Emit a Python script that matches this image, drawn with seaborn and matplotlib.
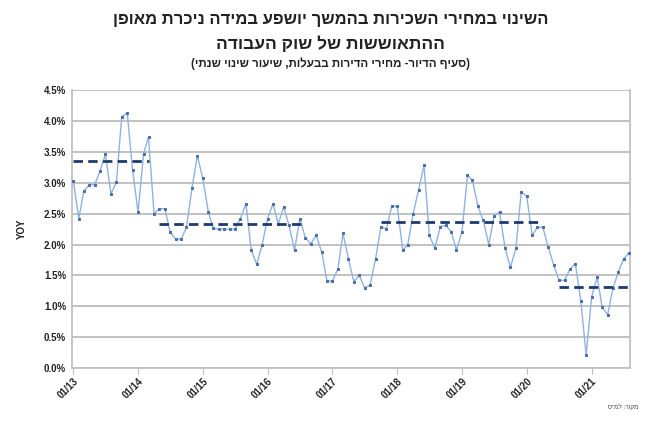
import numpy as np
import pandas as pd
import matplotlib
matplotlib.use("Agg")
import matplotlib.pyplot as plt
from matplotlib.ticker import FixedLocator, FuncFormatter
import seaborn as sns

# Monthly YoY change in owner-occupied housing prices (%), Jan 2013 - Aug 2021
yoy_2013 = [3.03, 2.42, 2.86, 2.97, 2.97, 3.19, 3.46, 2.82, 3.01, 4.07, 4.13, 3.21]
yoy_2014 = [2.52, 3.47, 3.74, 2.50, 2.58, 2.58, 2.20, 2.09, 2.09, 2.28, 2.91, 3.44]
yoy_2015 = [3.07, 2.53, 2.26, 2.25, 2.25, 2.25, 2.25, 2.42, 2.66, 1.91, 1.68, 1.99]
yoy_2016 = [2.42, 2.66, 2.33, 2.61, 2.31, 1.91, 2.42, 2.11, 2.01, 2.15, 1.88, 1.41]
yoy_2017 = [1.41, 1.61, 2.18, 1.77, 1.40, 1.50, 1.30, 1.34, 1.77, 2.29, 2.25, 2.62]
yoy_2018 = [2.62, 1.91, 1.99, 2.50, 2.88, 3.28, 2.15, 1.94, 2.29, 2.31, 2.21, 1.91]
yoy_2019 = [2.21, 3.12, 3.04, 2.62, 2.39, 2.00, 2.46, 2.53, 1.94, 1.63, 1.94, 2.85]
yoy_2020 = [2.78, 2.15, 2.28, 2.28, 1.96, 1.67, 1.42, 1.42, 1.60, 1.69, 1.09, 0.21]
yoy_2021 = [1.15, 1.48, 0.99, 0.86, 1.29, 1.56, 1.77, 1.87]

# Period averages (dashed levels)
avg_start = ["2013-01", "2014-05", "2017-10", "2020-07"]
avg_end = ["2014-03", "2016-08", "2020-04", "2021-08"]
avg_level = [3.36, 2.34, 2.36, 1.31]

tick_years = [2013, 2014, 2015, 2016, 2017, 2018, 2019, 2020, 2021]
y_ticks = [0.0, 0.5, 1.0, 1.5, 2.0, 2.5, 3.0, 3.5, 4.0, 4.5]

title_line1 = "השינוי במחירי השכירות בהמשך יושפע במידה ניכרת מאופן"
title_line2 = "ההתאוששות של שוק העבודה"
subtitle = "(סעיף הדיור- מחירי הדירות בבעלות, שיעור שינוי שנתי)"
source_note = 'מקור: למ"ס'


def rtl(text):
    """Lay out a right-to-left string for left-to-right glyph placement."""
    mirror = {"(": ")", ")": "("}
    return "".join(mirror.get(c, c) for c in reversed(text))


values = (yoy_2013 + yoy_2014 + yoy_2015 + yoy_2016 + yoy_2017
          + yoy_2018 + yoy_2019 + yoy_2020 + yoy_2021)
dates = pd.date_range("2013-01-01", periods=len(values), freq="MS")
df = pd.DataFrame({"date": dates, "yoy": values})

sns.set_theme(style="white")
plt.rcParams["font.family"] = ["Liberation Sans", "DejaVu Sans"]

fig = plt.figure(figsize=(6.55, 4.25), dpi=100)
ax = fig.add_axes([0.1095, 0.134, 0.852, 0.654])

# horizontal grid
for yv in y_ticks:
    ax.axhline(yv, color="#bdbdbd", lw=1.3, zorder=0)

sns.lineplot(data=df, x="date", y="yoy", ax=ax, color="#8fb2df", lw=1.0,
             marker="s", markersize=2.0, markerfacecolor="#4d6fa8",
             markeredgecolor="#4d6fa8", zorder=3)

for s, e, lvl in zip(avg_start, avg_end, avg_level):
    seg = pd.DataFrame({"date": pd.to_datetime([s, e]), "yoy": [lvl, lvl]})
    ax.plot(seg["date"], seg["yoy"], color="#1f3a6e", lw=2.0,
            dashes=(3.4, 1.9), zorder=4)

ax.set_xlim(dates[0] - pd.Timedelta(days=9), dates[-1] + pd.Timedelta(days=3))
ax.set_ylim(0, 4.5)

ax.yaxis.set_major_locator(FixedLocator(y_ticks))
ax.yaxis.set_major_formatter(FuncFormatter(lambda v, p: f"{v:.1f}%"))
tick_dates = [pd.Timestamp(f"{y}-01-01") for y in tick_years]
ax.set_xticks(tick_dates)
ax.set_xticklabels([f"01/{y % 100:02d}" for y in tick_years])

ax.tick_params(axis="y", labelsize=7, pad=4, length=0, colors="#222222")
ax.tick_params(axis="x", labelsize=7, pad=2, length=4, width=0.8,
               color="#bdbdbd", colors="#222222", direction="out")
ax.tick_params(axis="x", which="both", bottom=True)
for lab in ax.get_xticklabels():
    lab.set_rotation(45)
    lab.set_ha("right")
    lab.set_rotation_mode("anchor")
    lab.set_fontweight("bold")
for lab in ax.get_yticklabels():
    lab.set_fontweight("bold")

for side in ["left", "bottom", "right", "top"]:
    ax.spines[side].set_visible(True)
    ax.spines[side].set_color("#bdbdbd")
    ax.spines[side].set_linewidth(1.2)
ax.spines["top"].set_visible(False)

ax.set_xlabel("")
ax.set_ylabel("YOY", fontsize=7, fontweight="bold", color="#222222", labelpad=12)

fig.text(0.505, 0.953, rtl(title_line1), ha="center", va="center",
         fontsize=12, fontweight="bold", color="#222222")
fig.text(0.505, 0.898, rtl(title_line2), ha="center", va="center",
         fontsize=12.5, fontweight="bold", color="#222222")
fig.text(0.505, 0.850, rtl(subtitle), ha="center", va="center",
         fontsize=8.3, fontweight="bold", color="#222222")
fig.text(0.975, 0.042, rtl(source_note), ha="right", va="center",
         fontsize=4.5, color="#444444")

fig.savefig("out.png", dpi=100)
